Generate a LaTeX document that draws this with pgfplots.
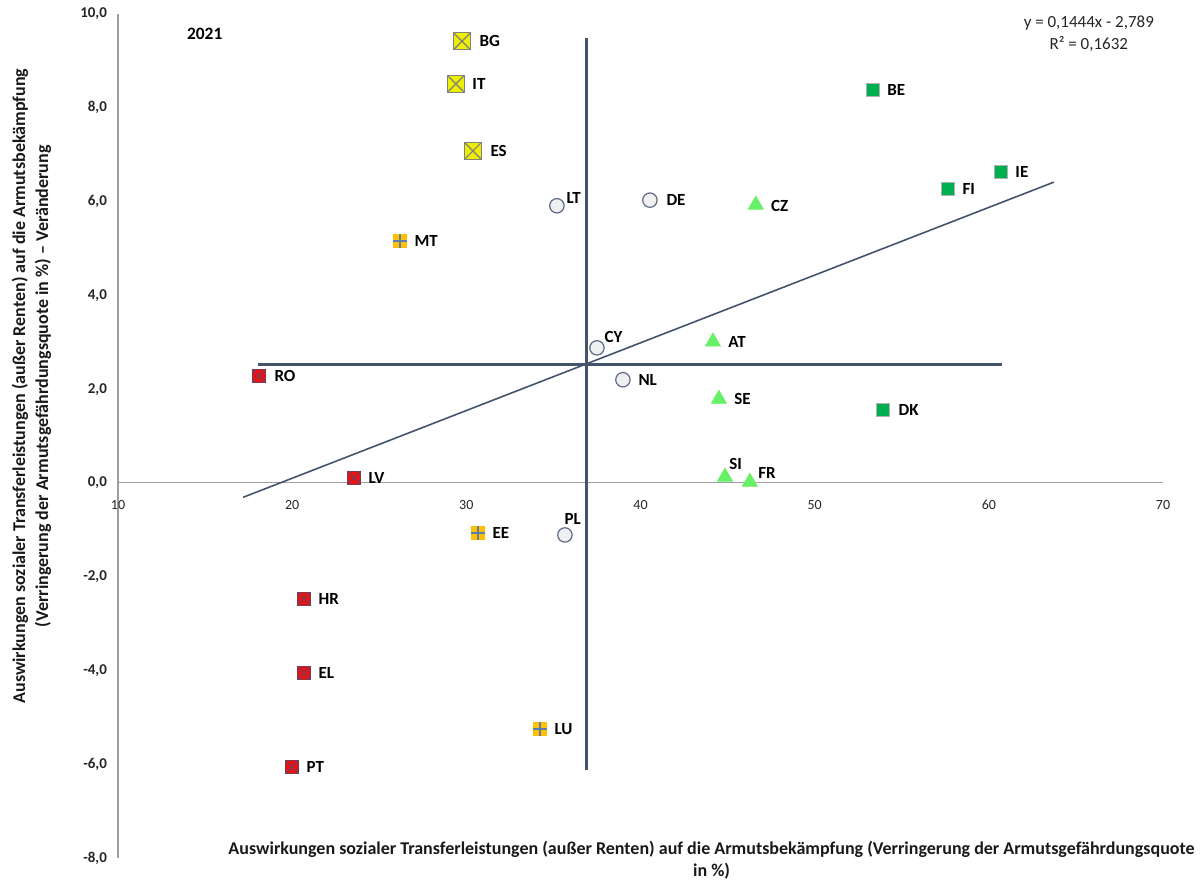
\documentclass[border=0pt]{standalone}
\usepackage{pgfplots}
\pgfplotsset{compat=1.18}
\usepackage{pgfplotstable}
\usepackage{fontspec}
\setmainfont{Carlito}

\definecolor{slate}{HTML}{44546A}
\definecolor{ylw}{HTML}{EEEE00}
\definecolor{rd}{HTML}{F01010}
\definecolor{rdx}{HTML}{7A3A55}
\definecolor{org}{HTML}{FFC000}
\definecolor{orgx}{HTML}{5B7DB1}
\definecolor{dgreen}{HTML}{00B050}
\definecolor{lgreen}{HTML}{66F066}
\definecolor{circfill}{HTML}{F0F0F2}
\definecolor{circdraw}{HTML}{5A6A85}

% square with a diagonal cross
\pgfdeclareplotmark{sqx}{%
  \pgfpathrectangle{\pgfqpoint{-\pgfplotmarksize}{-\pgfplotmarksize}}{\pgfqpoint{2\pgfplotmarksize}{2\pgfplotmarksize}}%
  \pgfusepathqfillstroke
  \pgfpathmoveto{\pgfqpoint{-\pgfplotmarksize}{-\pgfplotmarksize}}%
  \pgfpathlineto{\pgfqpoint{\pgfplotmarksize}{\pgfplotmarksize}}%
  \pgfpathmoveto{\pgfqpoint{-\pgfplotmarksize}{\pgfplotmarksize}}%
  \pgfpathlineto{\pgfqpoint{\pgfplotmarksize}{-\pgfplotmarksize}}%
  \pgfusepathqstroke
}
% square with an upright cross
\pgfdeclareplotmark{sqplus}{%
  \pgfpathrectangle{\pgfqpoint{-\pgfplotmarksize}{-\pgfplotmarksize}}{\pgfqpoint{2\pgfplotmarksize}{2\pgfplotmarksize}}%
  \pgfusepathqfill
  \pgfpathmoveto{\pgfqpoint{-\pgfplotmarksize}{0pt}}%
  \pgfpathlineto{\pgfqpoint{\pgfplotmarksize}{0pt}}%
  \pgfpathmoveto{\pgfqpoint{0pt}{\pgfplotmarksize}}%
  \pgfpathlineto{\pgfqpoint{0pt}{-\pgfplotmarksize}}%
  \pgfusepathqstroke
}

\pgfplotstableread{
x y label dx dy
29.75 9.42 BG 8.5 0
29.40 8.51 IT 8 0
30.38 7.08 ES 8.5 0
}\yellowtab

\pgfplotstableread{
x y label dx dy
18.09 2.28 RO 7.5 0
23.55 0.11 LV 7 0
20.68 -2.47 HR 7 0
20.68 -4.05 EL 7 0
19.99 -6.06 PT 7 0
}\redtab

\pgfplotstableread{
x y label dx dy
26.19 5.16 MT 7 0
30.67 -1.07 EE 7 0
34.23 -5.25 LU 7 0
}\orangetab

\pgfplotstableread{
x y label dx dy
35.20 5.91 LT 4.5 4
40.54 6.03 DE 8 0
37.50 2.88 CY 3.5 5.5
38.99 2.20 NL 7.5 0
35.66 -1.11 PL -0.5 8
}\circtab

\pgfplotstableread{
x y label dx dy
46.62 5.93 CZ 7.5 -0.5
44.16 3.01 AT 7.5 0
44.50 1.79 SE 7.5 0
44.85 0.13 SI 2 6.5
46.28 0.02 FR 4 4.5
}\tritab

\pgfplotstableread{
x y label dx dy
53.34 8.38 BE 7 0
57.65 6.27 FI 7 0
60.69 6.63 IE 7 0
53.92 1.56 DK 7.5 0
}\greentab

\pgfplotsset{
  lbl/.style={only marks, nodes near coords, point meta=explicit symbolic,
    visualization depends on={\thisrow{dx}\as\dx},
    visualization depends on={\thisrow{dy}\as\dy},
    nodes near coords style={anchor=west, inner sep=0pt, xshift=\dx pt, yshift=\dy pt,
      font=\fontsize{8.5}{10}\selectfont\bfseries, text=black}},
}

\begin{document}
\begin{tikzpicture}
\begin{axis}[
  scale only axis, width=522.5pt, height=422pt,
  xmin=10, xmax=70, ymin=-8, ymax=10,
  axis x line=middle, axis y line=left,
  axis line style={-, draw=gray!75, line width=0.6pt},
  every inner x axis line/.append style={-},
  every outer y axis line/.append style={-},
  xtick={10,20,...,70}, ytick={-8,-6,...,10},
  major tick length=0pt,
  hide obscured x ticks=false, hide obscured y ticks=false,
  clip=false,
  /pgf/number format/assume math mode=true,
  yticklabel style={/pgf/number format/.cd, fixed, fixed zerofill, precision=1, use comma, /tikz/.cd,
    font=\fontsize{7.5}{9}\selectfont\bfseries, text=black!85, xshift=-2pt},
  xticklabel style={font=\fontsize{7}{8}\selectfont, text=black!85, yshift=-5pt},
]
\coordinate (ll) at (rel axis cs:0,0);
\coordinate (ur) at (rel axis cs:1,1);

% quadrant lines and trend line
\addplot[slate, line width=1.5pt] coordinates {(36.92,9.49) (36.92,-6.12)};
\addplot[slate, line width=1.5pt] coordinates {(18.04,2.52) (60.75,2.52)};
\addplot[slate, line width=0.8pt] coordinates {(17.18,-0.308) (63.73,6.414)};

\addplot[lbl, mark=sqx, mark size=4.25pt, mark options={fill=ylw, draw=gray, line width=0.6pt}] table[meta=label] {\yellowtab};
\addplot[lbl, mark=sqx, mark size=3.3pt, mark options={fill=rd, draw=rdx, line width=0.6pt}] table[meta=label] {\redtab};
\addplot[lbl, mark=sqplus, mark size=3.3pt, mark options={fill=org, draw=orgx, line width=0.6pt}] table[meta=label] {\orangetab};
\addplot[lbl, mark=*, mark size=3.6pt, mark options={fill=circfill, draw=circdraw, line width=0.6pt}] table[meta=label] {\circtab};
\addplot[lbl, mark=triangle*, mark size=4.3pt, mark options={fill=lgreen, draw=lgreen}] table[meta=label] {\tritab};
\addplot[lbl, mark=square*, mark size=3.3pt, mark options={fill=dgreen, draw=gray!60, line width=0.6pt}] table[meta=label] {\greentab};

\node[font=\fontsize{8.7}{10}\selectfont\bfseries] at (rel axis cs:0.083,0.977) {2021};
\node[align=center, font=\fontsize{8.5}{11}\selectfont, text=black!85] at (rel axis cs:0.929,0.976)
  {y = 0,1444x - 2,789\\R² = 0,1632};
\node[anchor=north, align=center, font=\fontsize{9}{11}\selectfont\bfseries, text=black!90, inner sep=0pt]
  at (rel axis cs:0.568,0.021)
  {Auswirkungen sozialer Transferleistungen (außer Renten) auf die Armutsbekämpfung (Verringerung der Armutsgefährdungsquote\\in \%)};
\node[rotate=90, align=center, font=\fontsize{9}{11.5}\selectfont\bfseries, text=black!90, inner sep=0pt]
  at ([xshift=-43.25pt]rel axis cs:0,0.559)
  {Auswirkungen sozialer Transferleistungen (außer Renten) auf die Armutsbekämpfung\\(Verringerung der Armutsgefährdungsquote in \%) – Veränderung};
\end{axis}
\pgfresetboundingbox
\path ([shift={(-59pt,-10.5pt)}]ll) rectangle ([shift={(20pt,7pt)}]ur);
\end{tikzpicture}
\end{document}
